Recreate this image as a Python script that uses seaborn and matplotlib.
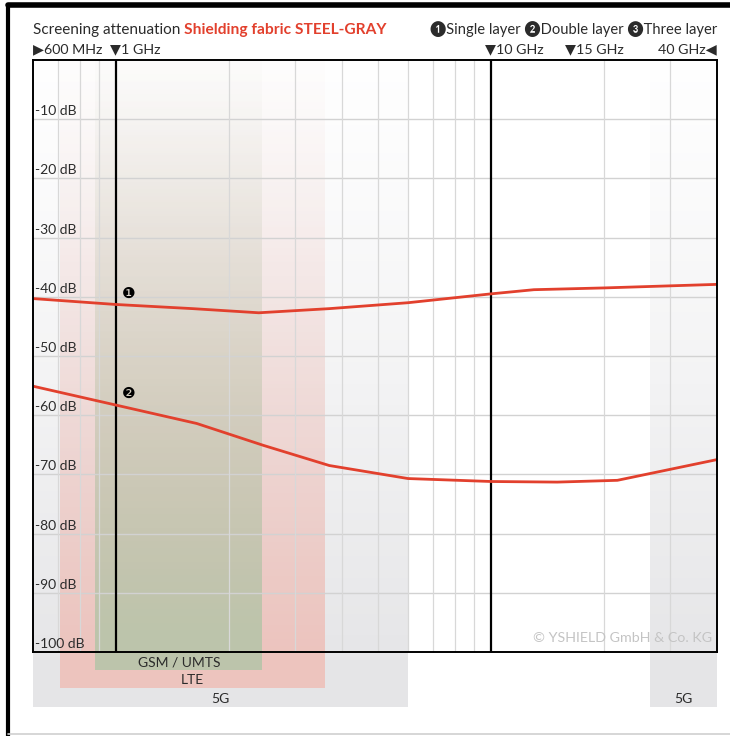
import numpy as np
import pandas as pd
import matplotlib
matplotlib.use("Agg")
import matplotlib.pyplot as plt
import matplotlib.transforms as mtransforms
from matplotlib.lines import Line2D
from matplotlib.patches import Rectangle
import seaborn as sns

# ---------------- data ----------------
freq_single = [0.6, 1.0, 1.6, 2.4, 3.7, 6.0, 10.0, 13.0, 20.0, 40.0]          # GHz
att_single = [-40.3, -41.3, -42.0, -42.7, -42.0, -41.0, -39.5, -38.8, -38.5, -37.9]  # dB

freq_double = [0.6, 1.0, 1.64, 2.47, 3.7, 6.0, 10.0, 15.0, 21.7, 40.0]
att_double = [-55.1, -58.3, -61.4, -65.1, -68.5, -70.7, -71.2, -71.3, -71.0, -67.5]

y_ticks = [-10, -20, -30, -40, -50, -60, -70, -80, -90, -100]
y_tick_labels = ["-10 dB", "-20 dB", "-30 dB", "-40 dB", "-50 dB",
                 "-60 dB", "-70 dB", "-80 dB", "-90 dB", "-100 dB"]

minor_grid_freqs = [0.7, 0.8, 0.9, 2, 3, 4, 5, 6, 7, 8, 9, 20, 30]
marker_freqs = [1.0, 10.0]
top_labels = ["\u25B6600 MHz", "\u25BC1 GHz", "\u25BC10 GHz", "\u25BC15 GHz", "40 GHz\u25C0"]
top_label_freqs = [0.6, 1.0, 10.0, 15.0, 40.0]

band_names = ["5G", "5G", "LTE", "GSM / UMTS"]
band_lo = [0.6, 26.5, 0.71, 0.88]
band_hi = [6.0, 40.0, 3.6, 2.45]
band_colors = ["#e5e5e7", "#e5e5e7", "#edc4be", "#bcc4ab"]
band_bottoms = [-0.093, -0.093, -0.061, -0.031]   # axes fraction

df = pd.concat([
    pd.DataFrame({"freq": freq_single, "att": att_single, "layer": "Single layer"}),
    pd.DataFrame({"freq": freq_double, "att": att_double, "layer": "Double layer"}),
])

# ---------------- style ----------------
sns.set_theme(style="white")
plt.rcParams["font.family"] = ["Lato", "DejaVu Sans"]
TXT = "#2b2b2b"
RED = "#e2402d"

W, H = 730, 736
fig = plt.figure(figsize=(W / 100, H / 100), dpi=100)
ax = fig.add_axes([33 / W, 1 - 652 / H, 684 / W, 592 / H])
ax.set_xscale("log")
ax.set_xlim(0.6, 40)
ax.set_ylim(-100, 0)

# bands (gradient fading toward the top)
trans = mtransforms.blended_transform_factory(ax.transData, ax.transAxes)
nstrip = 90
for lo, hi, col, bot in zip(band_lo, band_hi, band_colors, band_bottoms):
    edges = np.linspace(bot, 1.0, nstrip + 1)
    for i in range(nstrip):
        y0, y1 = edges[i], edges[i + 1]
        yc = 0.5 * (y0 + y1)
        frac = (1.0 - yc) / (1.0 - bot)
        alpha = min(1.0, 0.02 + 1.05 * frac ** 1.25)
        ax.add_patch(Rectangle((lo, y0), hi - lo, y1 - y0, transform=trans,
                               facecolor=col, edgecolor="none", alpha=alpha,
                               zorder=0.1, clip_on=False))

# band labels
label_y = [-0.079, -0.079, -0.048, -0.018]
for name, lo, hi, ly in zip(band_names, band_lo, band_hi, label_y):
    ax.text(np.sqrt(lo * hi), ly, name, transform=trans, ha="center", va="center",
            fontsize=10, color=TXT, zorder=3)

# grid
for yt in y_ticks[:-1]:
    ax.axhline(yt, color="#d2d2d2", lw=1.0, zorder=0.5)
for xf in minor_grid_freqs:
    ax.axvline(xf, color="#d8d8d8", lw=0.9, zorder=0.5)
for xf in marker_freqs:
    ax.axvline(xf, color="black", lw=1.6, zorder=2)

# curves
sns.lineplot(data=df, x="freq", y="att", hue="layer", palette=[RED, RED],
             linewidth=2.0, legend=False, ax=ax, zorder=3)
ax.set_xlabel("")
ax.set_ylabel("")

# curve markers
ax.text(1.08, att_single[1] + 1.8, "\u2776", fontsize=11, ha="center", va="center",
        color="black", family=["DejaVu Sans"], zorder=4)
ax.text(1.08, att_double[1] + 2.0, "\u2777", fontsize=11, ha="center", va="center",
        color="black", family=["DejaVu Sans"], zorder=4)

# y labels inside axes
ax.set_xticks([])
ax.set_yticks([])
ax.minorticks_off()
ytr = mtransforms.blended_transform_factory(ax.transAxes, ax.transData)
for yt, lab in zip(y_ticks, y_tick_labels):
    ax.text(0.003, yt + 0.35, lab, transform=ytr,
            ha="left", va="bottom", fontsize=10, color=TXT, zorder=3)

for s in ax.spines.values():
    s.set_color("black")
    s.set_linewidth(1.4)
    s.set_zorder(5)

# copyright
ax.text(0.993, 0.023, "\u00A9 YSHIELD GmbH & Co. KG", transform=ax.transAxes,
        ha="right", va="center", fontsize=10.3, color="#c4c4c4", zorder=4)

# header texts
t1 = fig.text(33 / W, 1 - 34 / H, "Screening attenuation ", fontsize=11, color=TXT,
              ha="left", va="baseline")
fig.canvas.draw()
bb = t1.get_window_extent()
fig.text(bb.x1 / W, 1 - 34 / H, "Shielding fabric STEEL-GRAY", fontsize=11.2,
         color=RED, fontweight="bold", ha="left", va="baseline")
fig.text(717 / W, 1 - 34 / H, "\u2776Single layer \u2777Double layer \u2778Three layer",
         fontsize=10.6, color=TXT, ha="right", va="baseline", family=["Lato", "DejaVu Sans"])

xtrans = mtransforms.blended_transform_factory(ax.transData, fig.transFigure)
ha_list = ["left", "center", "center", "center", "right"]
dx_list = [0, 19, 23, 37, 0]
for lab, f, ha, dx in zip(top_labels, top_label_freqs, ha_list, dx_list):
    ax.annotate(lab, xy=(f, 1 - 53 / H), xycoords=xtrans, xytext=(dx * 0.72, 0),
                textcoords="offset points", ha=ha, va="baseline", fontsize=10.3,
                color=TXT, family=["Lato", "DejaVu Sans"], annotation_clip=False)

# outer frame
fig.add_artist(Line2D([8 / W, 1], [1 - 5 / H, 1 - 5 / H], color="black", lw=4))
fig.add_artist(Line2D([8 / W, 8 / W], [0, 1 - 5 / H], color="black", lw=3))
fig.add_artist(Line2D([8 / W, 1], [1 - 734 / H, 1 - 734 / H], color="#cfcfcf", lw=1.2))

fig.savefig("out.png", dpi=100, facecolor="white")
